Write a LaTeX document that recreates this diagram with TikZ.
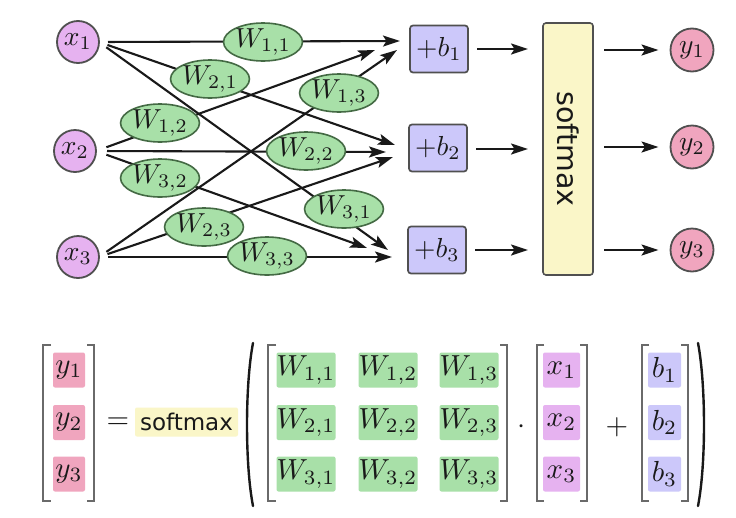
\documentclass[tikz,border=0pt]{standalone}
\usepackage{fontspec}
\newfontfamily\dvs{DejaVu Sans}
\usetikzlibrary{arrows.meta,shapes.geometric}
\definecolor{xfill}{RGB}{230,178,240}
\definecolor{yfill}{RGB}{240,165,190}
\definecolor{wfill}{RGB}{168,224,168}
\definecolor{bfill}{RGB}{204,200,250}
\definecolor{sfill}{RGB}{250,246,200}
\definecolor{ink}{RGB}{25,25,25}
\definecolor{rim}{RGB}{80,80,80}
\newcommand\TopT[1]{\scalebox{2.75}{#1}}
\newcommand\BotT[1]{\scalebox{2.9}{#1}}
\begin{document}
\begin{tikzpicture}[x=1pt,y=-1pt,
  every node/.style={inner sep=0pt,outer sep=0pt,text=ink},
  arr/.style={line width=2.1pt,draw=ink,-{Stealth[length=17pt,width=11pt,inset=3.5pt]}},
  xn/.style={circle,draw=rim,line width=1.8pt,fill=xfill,minimum size=42pt},
  yn/.style={circle,draw=rim,line width=1.8pt,fill=yfill,minimum size=43pt},
  wt/.style={ellipse,draw=rim!85!green,line width=1.6pt,fill=wfill,minimum width=62pt,minimum height=38pt},
  bn/.style={rectangle,rounded corners=3pt,draw=rim,line width=1.7pt,fill=bfill,minimum width=58pt,minimum height=47pt},
  smbox/.style={rectangle,rounded corners=3pt,draw=rim,line width=1.6pt,fill=sfill,minimum width=50pt,minimum height=252pt},
  cell/.style={rectangle,rounded corners=2pt,minimum height=35pt},
  brk/.style={line width=1.8pt,draw=rim!85},
  paren/.style={line width=2.4pt,draw=ink,line cap=round}
]
\useasboundingbox (0,0) rectangle (736,517);
\fill[white] (0,0) rectangle (736,517);

% inputs
\node[xn] (x1) at (78,42) {\TopT{$x_1$}};
\node[xn] (x2) at (75,151) {\TopT{$x_2$}};
\node[xn] (x3) at (78,257) {\TopT{$x_3$}};

% arrow end points
\coordinate (e11) at (400,41);
\coordinate (e12) at (375,50);
\coordinate (e13) at (397,50);
\coordinate (e21) at (395,145);
\coordinate (e22) at (386,152);
\coordinate (e23) at (393,157);
\coordinate (e31) at (388,250);
\coordinate (e32) at (367,248);
\coordinate (e33) at (392,257);

% weighted connections
\draw[arr,shorten <=9pt] (x1.east) -- (e11);
\draw[arr,shorten <=9pt] (x1.east) -- (e21);
\draw[arr,shorten <=9pt] (x1.east) -- (e31);
\draw[arr,shorten <=11pt] (x2.east) -- (e12);
\draw[arr,shorten <=11pt] (x2.east) -- (e22);
\draw[arr,shorten <=11pt] (x2.east) -- (e32);
\draw[arr,shorten <=9pt] (x3.east) -- (e13);
\draw[arr,shorten <=9pt] (x3.east) -- (e23);
\draw[arr,shorten <=9pt] (x3.east) -- (e33);

% weights
\node[wt] (W11) at (263,42) {\TopT{$W_{1,1}$}};
\node[wt] (W21) at (210,79) {\TopT{$W_{2,1}$}};
\node[wt] (W13) at (339,93) {\TopT{$W_{1,3}$}};
\node[wt] (W12) at (160,123) {\TopT{$W_{1,2}$}};
\node[wt] (W22) at (306,151) {\TopT{$W_{2,2}$}};
\node[wt] (W32) at (160,178) {\TopT{$W_{3,2}$}};
\node[wt] (W31) at (344,209) {\TopT{$W_{3,1}$}};
\node[wt] (W23) at (204,227) {\TopT{$W_{2,3}$}};
\node[wt] (W33) at (267,256) {\TopT{$W_{3,3}$}};

% biases
\node[bn] (b1) at (439,49) {\TopT{$+b_1$}};
\node[bn] (b2) at (438,148) {\TopT{$+b_2$}};
\node[bn] (b3) at (437,250) {\TopT{$+b_3$}};

% softmax
\node[smbox] (sm) at (568,149) {};
\node[rotate=-90,font=\dvs\fontsize{28.5}{30}\selectfont] (smt) at (sm.center) {softmax};

% outputs
\node[yn] (y1) at (692,50) {\TopT{$y_1$}};
\node[yn] (y2) at (692,147) {\TopT{$y_2$}};
\node[yn] (y3) at (692,250) {\TopT{$y_3$}};

\draw[arr,shorten <=9pt,shorten >=15pt] (b1.east) -- (b1.east -| sm.west);
\draw[arr,shorten <=9pt,shorten >=15pt] ([yshift=-1pt]b2.east) -- ([yshift=-1pt]b2.east -| sm.west);
\draw[arr,shorten <=9pt,shorten >=15pt] (b3.east) -- (b3.east -| sm.west);
\draw[arr,shorten <=11pt,shorten >=12pt] (sm.east |- y1) -- (y1.west);
\draw[arr,shorten <=11pt,shorten >=12pt] (sm.east |- y2) -- (y2.west);
\draw[arr,shorten <=11pt,shorten >=12pt] (sm.east |- y3) -- (y3.west);

% ---------- equation ----------
% y vector
\node[cell,fill=yfill,minimum width=32pt] (Y1) at (69,370) {\BotT{$y_1$}};
\node[cell,fill=yfill,minimum width=32pt] (Y2) at (69,422.5) {\BotT{$y_2$}};
\node[cell,fill=yfill,minimum width=32pt] (Y3) at (69,474) {\BotT{$y_3$}};
\draw[brk] (51,345) -| (43,501) -- (51,501);
\draw[brk] (87,345) -| (94,501) -- (87,501);

\node (eq) at (118,423) {\BotT{$=$}};
\node[rectangle,rounded corners=2pt,fill=sfill,minimum width=103pt,minimum height=29pt,font=\dvs\fontsize{23}{26}\selectfont] (smx) at (186.5,422) {softmax};

\draw[paren] (253,343) .. controls (245,385) and (245,465) .. (253,506);

% W matrix
\node[cell,fill=wfill,minimum width=59pt] (M11) at (306,370) {\BotT{$W_{1,1}$}};
\node[cell,fill=wfill,minimum width=59pt] (M12) at (388,370) {\BotT{$W_{1,2}$}};
\node[cell,fill=wfill,minimum width=59pt] (M13) at (469,370) {\BotT{$W_{1,3}$}};
\node[cell,fill=wfill,minimum width=59pt] (M21) at (306,422.5) {\BotT{$W_{2,1}$}};
\node[cell,fill=wfill,minimum width=59pt] (M22) at (388,422.5) {\BotT{$W_{2,2}$}};
\node[cell,fill=wfill,minimum width=59pt] (M23) at (469,422.5) {\BotT{$W_{2,3}$}};
\node[cell,fill=wfill,minimum width=59pt] (M31) at (306,474) {\BotT{$W_{3,1}$}};
\node[cell,fill=wfill,minimum width=59pt] (M32) at (388,474) {\BotT{$W_{3,2}$}};
\node[cell,fill=wfill,minimum width=59pt] (M33) at (469,474) {\BotT{$W_{3,3}$}};
\draw[brk] (276,345) -| (268,501) -- (276,501);
\draw[brk] (500,345) -| (507,501) -- (500,501);

\node (dot) at (522,427) {\BotT{$\cdot$}};

% x vector
\node[cell,fill=xfill,minimum width=37pt] (X1) at (561.5,370) {\BotT{$x_1$}};
\node[cell,fill=xfill,minimum width=37pt] (X2) at (561.5,422.5) {\BotT{$x_2$}};
\node[cell,fill=xfill,minimum width=37pt] (X3) at (561.5,474) {\BotT{$x_3$}};
\draw[brk] (544,345) -| (537,501) -- (544,501);
\draw[brk] (580,345) -| (587,501) -- (580,501);

\node (plus) at (617,427) {\BotT{$+$}};

% b vector
\node[cell,fill=bfill,minimum width=33pt] (B1) at (664.5,370) {\BotT{$b_1$}};
\node[cell,fill=bfill,minimum width=33pt] (B2) at (664.5,422.5) {\BotT{$b_2$}};
\node[cell,fill=bfill,minimum width=33pt] (B3) at (664.5,474) {\BotT{$b_3$}};
\draw[brk] (649,345) -| (642,501) -- (649,501);
\draw[brk] (681,345) -| (688,501) -- (681,501);

\draw[paren] (698,343) .. controls (706,385) and (706,465) .. (698,506);
\end{tikzpicture}
\end{document}
